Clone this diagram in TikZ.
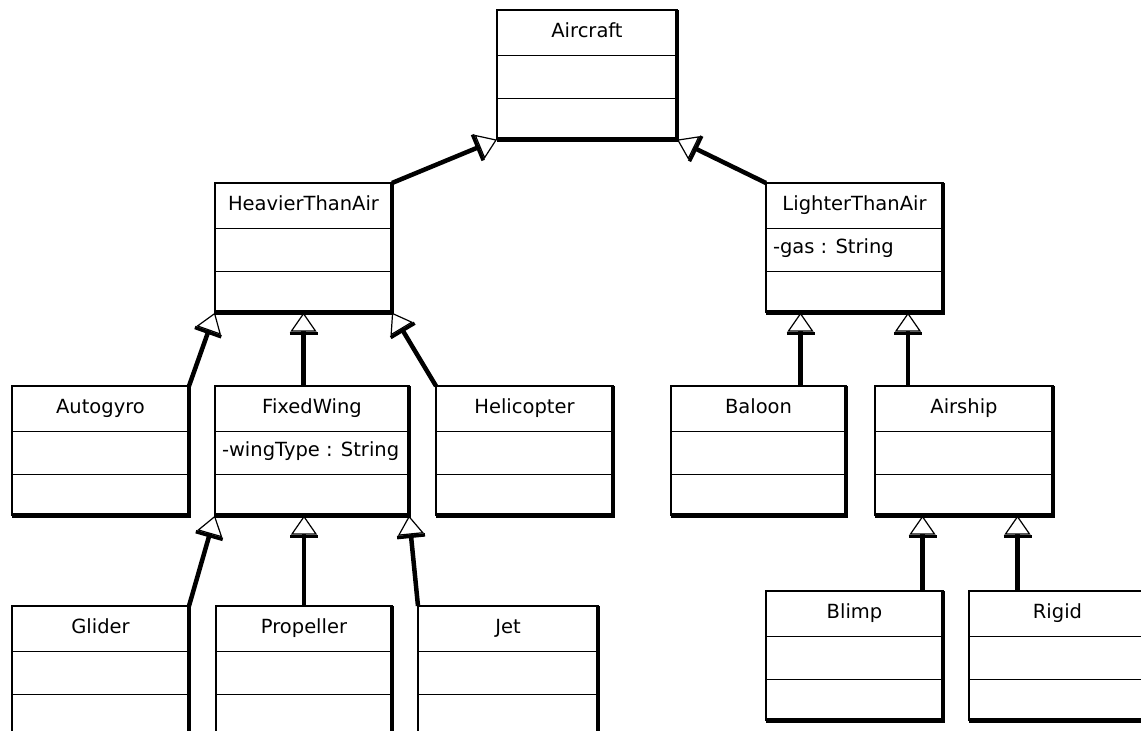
\documentclass[tikz,border=0pt]{standalone}
\usepackage{fontspec}
\setmainfont{DejaVu Sans}
\usetikzlibrary{shapes.multipart,arrows.meta}

\tikzset{
  klasse/.style={draw, line width=1.2, rectangle split, rectangle split parts=3,
    rectangle split part align={center,left,left}, inner ysep=0pt, inner xsep=7,
    outer sep=0pt, anchor=north west, minimum width=177,
    font=\fontsize{19.5}{23}\selectfont},
  schaduw/.style={line width=4.5},
  erft/.style={line width=4.5, -{Bar[width=28, line width=3.5, sep=0pt] Triangle[fill=white, line width=1.2, length=19, width=26]}}
}
% vakken van een klasse
\newcommand{\kop}[1]{\rule[-17pt]{0pt}{44pt}#1}
\newcommand{\veld}[1]{\rule[-17pt]{0pt}{42pt}#1}
\newcommand{\rest}{\rule{0pt}{40pt}}

\begin{document}
\begin{tikzpicture}[x=1pt, y=-1pt]
    \clip (0,0) rectangle (1141,731);
    \fill[white] (0,0) rectangle (1141,731);

    % Klassen
    \node[klasse, minimum width=180] (aircraft) at (497,10) {\kop{Aircraft}\nodepart{two}\veld{}\nodepart{three}\rest};
    \node[klasse] (heavier) at (215,183) {\kop{HeavierThanAir}\nodepart{two}\veld{}\nodepart{three}\rest};
    \node[klasse] (lighter) at (766,183) {\kop{LighterThanAir}\nodepart{two}\veld{-gas : String}\nodepart{three}\rest};

    \node[klasse] (autogyro) at (12,386) {\kop{Autogyro}\nodepart{two}\veld{}\nodepart{three}\rest};
    \node[klasse, minimum width=194] (fixedwing) at (215,386) {\kop{FixedWing}\nodepart{two}\veld{-wingType : String}\nodepart{three}\rest};
    \node[klasse] (helicopter) at (436,386) {\kop{Helicopter}\nodepart{two}\veld{}\nodepart{three}\rest};
    \node[klasse, minimum width=175] (baloon) at (671,386) {\kop{Baloon}\nodepart{two}\veld{}\nodepart{three}\rest};
    \node[klasse, minimum width=178] (airship) at (875,386) {\kop{Airship}\nodepart{two}\veld{}\nodepart{three}\rest};

    \node[klasse] (glider) at (12,606) {\kop{Glider}\nodepart{two}\veld{}\nodepart{three}\rest};
    \node[klasse, minimum width=176] (propeller) at (216,606) {\kop{Propeller}\nodepart{two}\veld{}\nodepart{three}\rest};
    \node[klasse, minimum width=180] (jet) at (418,606) {\kop{Jet}\nodepart{two}\veld{}\nodepart{three}\rest};
    \node[klasse] (blimp) at (766,591) {\kop{Blimp}\nodepart{two}\veld{}\nodepart{three}\rest};
    \node[klasse] (rigid) at (969,591) {\kop{Rigid}\nodepart{two}\veld{}\nodepart{three}\rest};

    % Schaduw rechts en onder
    \foreach \k in {aircraft,heavier,lighter,autogyro,fixedwing,helicopter,baloon,airship,glider,propeller,jet,blimp,rigid}
        \draw[schaduw] (\k.north east) -- (\k.south east) -- (\k.south west);

    % Overerving
    \draw[erft] (heavier.north east) -- (aircraft.south west);
    \draw[erft] (lighter.north west) -- (aircraft.south east);

    \draw[erft] (autogyro.north east) -- (heavier.south west);
    \draw[erft] (fixedwing.north -| heavier.south) -- (heavier.south);
    \draw[erft] (helicopter.north west) -- (heavier.south east);

    \draw[erft] ([xshift=42]baloon.north) -- ([xshift=42]baloon.north |- lighter.south);
    \draw[erft] ([xshift=-56]airship.north) -- ([xshift=-56]airship.north |- lighter.south);

    \draw[erft] (glider.north east) -- (fixedwing.south west);
    \draw[erft] (propeller.north) -- (propeller.north |- fixedwing.south);
    \draw[erft] (jet.north west) -- (fixedwing.south east);

    \draw[erft] ([xshift=68]blimp.north) -- ([xshift=68]blimp.north |- airship.south);
    \draw[erft] ([xshift=-40]rigid.north) -- ([xshift=-40]rigid.north |- airship.south);
\end{tikzpicture}
\end{document}
